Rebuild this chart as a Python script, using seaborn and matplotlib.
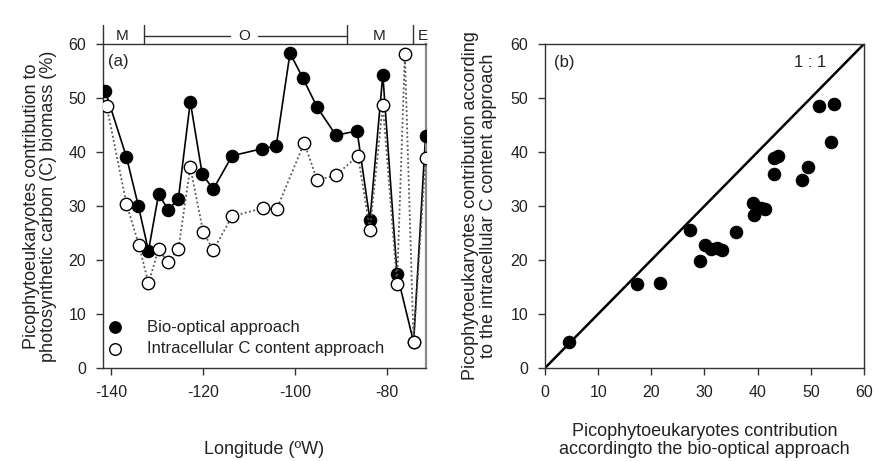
"""
Picophytoeukaryotes contribution: longitude section (a) and method comparison (b).
"""

import matplotlib
matplotlib.use("Agg")
import matplotlib.pyplot as plt
import pandas as pd
import seaborn as sns


# panel (a): bio-optical approach along the section
bio_lon = [-141.3, -136.7, -134.1, -131.9, -129.7, -127.6, -125.4, -122.8,
           -120.2, -117.8, -113.7, -107.2, -104.1, -101.1, -98.3, -95.2,
           -91.1, -86.5, -83.7, -80.9, -77.8, -74.2, -71.6]
bio_pct = [51.3, 39.1, 30.0, 21.7, 32.2, 29.3, 31.3, 49.3,
           35.9, 33.1, 39.3, 40.6, 41.1, 58.3, 53.7, 48.3,
           43.1, 43.9, 27.4, 54.3, 17.4, 4.8, 43.0]

# panel (a): intracellular C content approach
icc_lon = [-141.0, -136.7, -134.0, -131.9, -129.7, -127.7, -125.4, -122.8,
           -120.0, -117.8, -113.7, -107.0, -104.0, -98.0, -95.2, -91.1,
           -86.3, -83.7, -80.9, -77.8, -76.1, -74.2, -71.6]
icc_pct = [48.5, 30.4, 22.8, 15.7, 22.0, 19.6, 22.0, 37.2,
           25.2, 21.8, 28.1, 29.6, 29.4, 41.7, 34.8, 35.7,
           39.3, 25.6, 48.7, 15.6, 58.1, 4.8, 38.9]

# panel (b): bio-optical vs intracellular
cmp_bio = [4.6, 17.4, 21.6, 27.3, 29.1, 30.1, 31.2, 32.3, 33.3, 35.9, 39.2,
           39.4, 40.7, 41.4, 43.0, 43.0, 43.9, 48.3, 49.5, 51.5, 53.8, 54.4]
cmp_icc = [4.9, 15.6, 15.8, 25.6, 19.8, 22.8, 22.0, 22.3, 21.9, 25.2, 30.5,
           28.3, 29.7, 29.5, 35.9, 38.9, 39.3, 34.9, 37.2, 48.5, 41.9, 48.8]

# water-mass bands above panel (a)
band_labels = ["M", "O", "M", "E"]
band_edges = [-141.8, -132.8, -88.7, -74.3, -71.5]

FONT = ["Liberation Sans", "DejaVu Sans"]


def style_axes(ax):
    for side in ["left", "bottom", "top", "right"]:
        ax.spines[side].set_visible(True)
        ax.spines[side].set_color("#333333")
        ax.spines[side].set_linewidth(1.0)
    ax.tick_params(direction="out", length=5, width=1, color="#333333",
                   labelsize=11.5, pad=7)


def draw_section(ax):
    bio = pd.DataFrame({"lon": bio_lon, "pct": bio_pct})
    icc = pd.DataFrame({"lon": icc_lon, "pct": icc_pct})

    sns.lineplot(data=bio, x="lon", y="pct", ax=ax, color="black",
                 linewidth=1.2, zorder=2)
    sns.scatterplot(data=bio, x="lon", y="pct", ax=ax, color="black",
                    s=80, edgecolor="black", linewidth=0.8, zorder=3,
                    label="Bio-optical approach")
    sns.lineplot(data=icc, x="lon", y="pct", ax=ax, color="#555555",
                 linewidth=1.3, linestyle=(0, (1, 1.4)), zorder=4)
    sns.scatterplot(data=icc, x="lon", y="pct", ax=ax, color="white",
                    s=80, edgecolor="black", linewidth=1.0, zorder=5,
                    label="Intracellular C content approach")

    ax.set_xlim(-141.8, -71.5)
    ax.set_ylim(0, 60)
    ax.set_xticks([-140, -120, -100, -80])
    ax.set_yticks(range(0, 61, 10))
    ax.set_xlabel("Longitude (ºW)", fontsize=13, labelpad=30)
    ax.set_ylabel("Picophytoeukaryotes contribution to\n"
                  "photosynthetic carbon (C) biomass (%)",
                  fontsize=13, labelpad=8, linespacing=1.05)
    style_axes(ax)
    ax.spines["right"].set_color("#8a8a8a")
    ax.spines["right"].set_linewidth(1.6)

    ax.text(-140.7, 56.7, "(a)", fontsize=12, va="center", ha="left")

    leg = ax.legend(loc="lower left", bbox_to_anchor=(-0.045, 0.005),
                    frameon=False, fontsize=12, handletextpad=0.9,
                    labelspacing=0.4, borderaxespad=0.2)
    for handle in leg.legend_handles:
        handle.set_sizes([70])

    # band bar above the axes
    trans = ax.get_xaxis_transform()
    for edge in band_edges[:-1]:
        ax.plot([edge, edge], [1.0, 1.058], transform=trans, color="#333333",
                linewidth=1.0, clip_on=False)
    ax.plot([-132.8, -114.1], [1.026, 1.026], transform=trans,
            color="#333333", linewidth=1.0, clip_on=False)
    ax.plot([-108.0, -88.7], [1.026, 1.026], transform=trans,
            color="#333333", linewidth=1.0, clip_on=False)
    band_x = [-137.6, -111.1, -81.7, -72.3]
    for label, xpos in zip(band_labels, band_x):
        ax.text(xpos, 1.026, label, transform=trans, fontsize=11,
                ha="center", va="center")


def draw_comparison(ax):
    cmp_df = pd.DataFrame({"bio": cmp_bio, "icc": cmp_icc})

    ax.plot([0, 60], [0, 60], color="black", linewidth=1.8, zorder=2)
    sns.scatterplot(data=cmp_df, x="bio", y="icc", ax=ax, color="black",
                    s=80, edgecolor="black", linewidth=0.8, zorder=3)

    ax.set_xlim(0, 60)
    ax.set_ylim(0, 60)
    ax.set_xticks(range(0, 61, 10))
    ax.set_yticks(range(0, 61, 10))
    ax.set_xlabel("Picophytoeukaryotes contribution\n"
                  "accordingto the bio-optical approach",
                  fontsize=13, labelpad=17, linespacing=1.05)
    ax.set_ylabel("Picophytoeukaryotes contribution according\n"
                  "to the intracellular C content approach",
                  fontsize=13, labelpad=10, linespacing=1.05)
    style_axes(ax)

    ax.text(3.7, 56.6, "(b)", fontsize=12, va="center", ha="center")
    ax.text(49.8, 56.5, "1 : 1", fontsize=12, va="center", ha="center")


def main():
    sns.set_theme(style="ticks")
    plt.rcParams["font.family"] = FONT
    plt.rcParams["axes.unicode_minus"] = False
    plt.rcParams["text.color"] = "#222222"
    plt.rcParams["axes.labelcolor"] = "#222222"
    plt.rcParams["xtick.color"] = "#222222"
    plt.rcParams["ytick.color"] = "#222222"

    fig = plt.figure(figsize=(8.78, 4.61), dpi=100)
    ax_a = fig.add_axes([0.1173, 0.2017, 0.3679, 0.7029])
    ax_b = fig.add_axes([0.6207, 0.2017, 0.3633, 0.7029])

    draw_section(ax_a)
    draw_comparison(ax_b)

    fig.savefig("out.png", dpi=100, facecolor="white")


if __name__ == "__main__":
    main()
